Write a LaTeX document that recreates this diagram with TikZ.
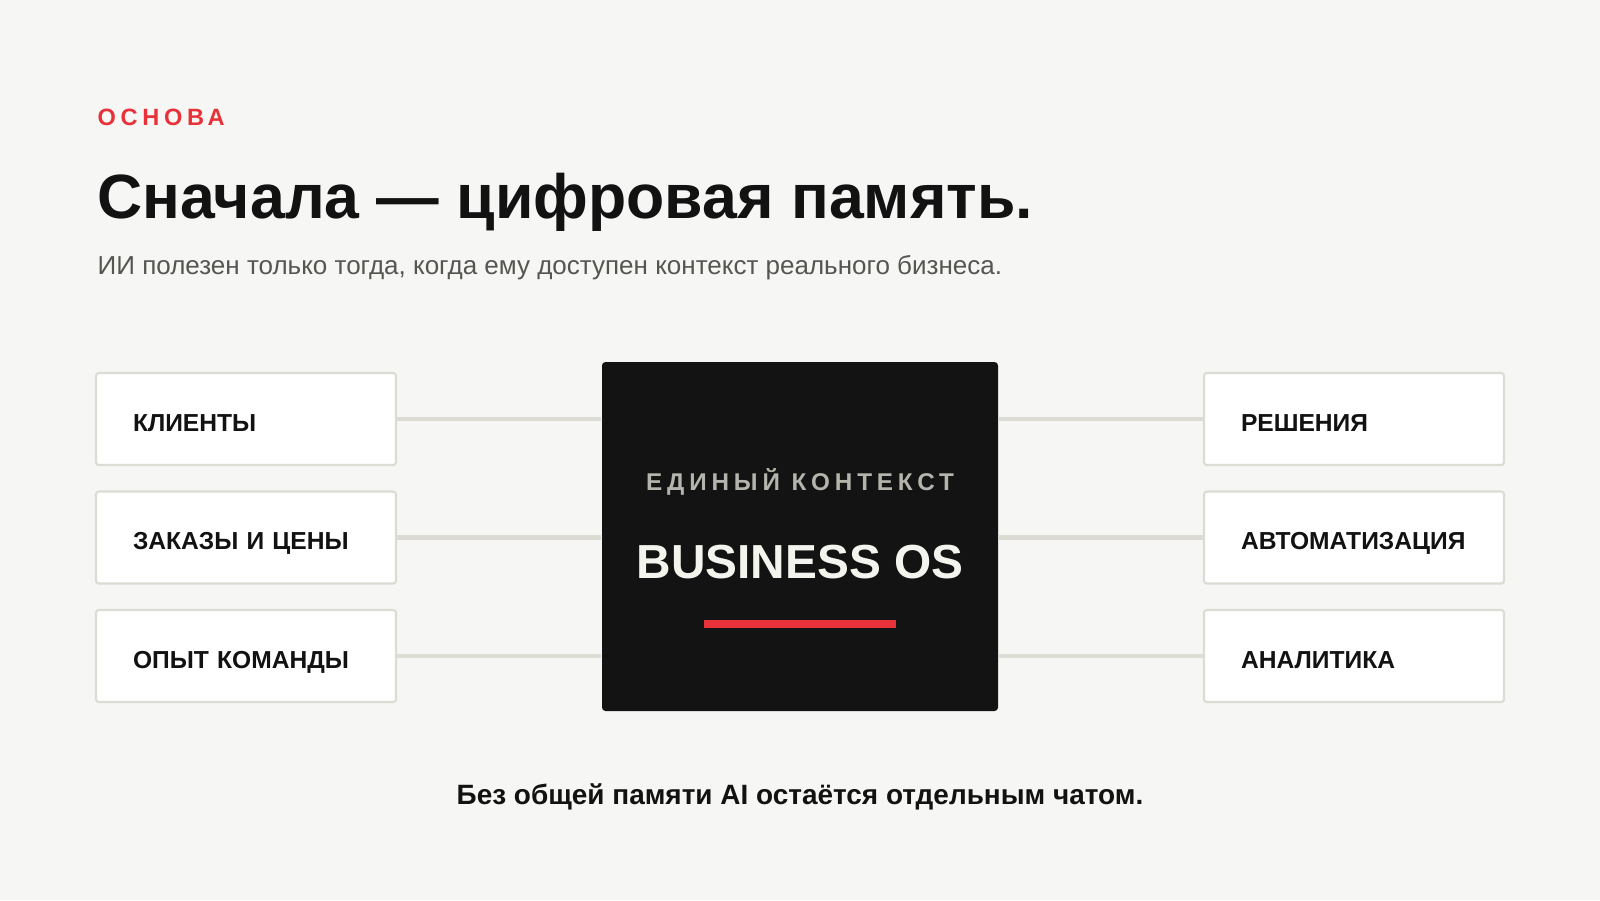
\documentclass[tikz,border=0pt]{standalone}
\usepackage{fontspec}
\setmainfont{Liberation Sans}
\newfontfamily\widefont[LetterSpace=20]{Liberation Sans}
\usetikzlibrary{positioning}

\definecolor{paper}{HTML}{F6F6F4}
\definecolor{ink}{HTML}{121212}
\definecolor{accent}{HTML}{E8323A}
\definecolor{rule}{HTML}{DCDCD5}
\definecolor{muted}{HTML}{555552}
\definecolor{coredark}{HTML}{131313}
\definecolor{coretag}{HTML}{B4B4AC}
\definecolor{coretext}{HTML}{F4F4EF}

\begin{document}
\begin{tikzpicture}[
  card/.style={draw=rule, line width=0.6pt, fill=white, rounded corners=0.8pt,
    minimum width=3cm, minimum height=0.92cm, inner xsep=0.37cm,
    text width=2.26cm, align=left, text=ink, text height=7pt, text depth=0pt,
    font=\fontsize{7}{8.4}\selectfont\bfseries},
  link/.style={rule, line width=1.15pt},
  lab/.style={inner sep=0pt, anchor=base west}
]

% Page (16 x 9 units = 1600 x 900 px)
\fill[paper] (0,0) rectangle (16,-9);

% Heading block
\node[lab, text=accent, font=\widefont\fontsize{6.7}{8}\selectfont\bfseries] (kicker) at (0.97,-1.25) {ОСНОВА};
\node[lab, text=ink, font=\fontsize{17.8}{21}\selectfont\bfseries] (title) at (0.97,-2.18) {Сначала — цифровая память.};
\node[lab, text=muted, font=\fontsize{7.4}{8.5}\selectfont] (sub) at (0.97,-2.74)
  {ИИ полезен только тогда, когда ему доступен контекст реального бизнеса.};

% Central block
\node[fill=coredark, rounded corners=1pt, minimum width=3.96cm, minimum height=3.49cm, inner sep=0pt] (core) at (8,-5.365) {};
\node[inner sep=0pt, anchor=base, text=coretag, font=\widefont\fontsize{6.9}{8}\selectfont\bfseries] (tag) at (8,-4.90) {ЕДИНЫЙ КОНТЕКСТ};
\node[inner sep=0pt, anchor=base, text=coretext, font=\fontsize{13.6}{15}\selectfont\bfseries] (os) at (8,-5.78) {BUSINESS OS};
\node[fill=accent, inner sep=0pt, minimum width=1.92cm, minimum height=0.08cm] (bar) at (8,-6.24) {};

% Inputs (left) and outcomes (right), tied to the core
\foreach \i/\txt in {1/КЛИЕНТЫ, 2/ЗАКАЗЫ И ЦЕНЫ, 3/ОПЫТ КОМАНДЫ} {
  \node[card] (in\i) at (2.46,{-4.19-1.185*(\i-1)}) {\txt};
  \draw[link] (in\i.east) -- (in\i.east -| core.west);
}
\foreach \i/\txt in {1/РЕШЕНИЯ, 2/АВТОМАТИЗАЦИЯ, 3/АНАЛИТИКА} {
  \node[card] (out\i) at (13.54,{-4.19-1.185*(\i-1)}) {\txt};
  \draw[link] (out\i.west) -- (out\i.west -| core.east);
}

% Closing line
\node[inner sep=0pt, anchor=base, text=ink, font=\fontsize{7.95}{9}\selectfont\bfseries] (note) at (8,-8.04)
  {Без общей памяти AI остаётся отдельным чатом.};

\end{tikzpicture}
\end{document}
